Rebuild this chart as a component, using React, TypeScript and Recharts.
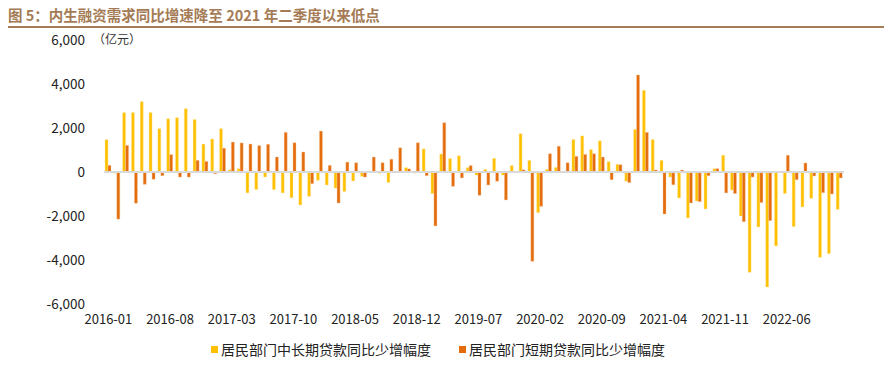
import { Bar, BarChart, ReferenceLine, XAxis, YAxis } from "recharts"

// months 2016-01 .. 2022-12
const months: string[] = []
for (let y = 2016; y <= 2022; y++) {
  for (let m = 1; m <= 12; m++) months.push(`${y}-${String(m).padStart(2, "0")}`)
}

// 居民部门中长期贷款同比少增幅度 (亿元)
const longTerm = [
  1470, -50, 2700, 2700, 3200, 2700, 1970, 2420, 2470, 2880, 2390, 1270,
  1500, 1970, 100, 150, -950, -800, -230, -800, -950, -1170, -1500, -1110,
  -380, -590, -730, -890, -410, -200, 20, -60, -480, 10, 200, -50,
  1050, -980, 820, 610, 740, 200, -140, 120, 620, -140, 290, 1740,
  530, -1850, 120, 210, 20, 1480, 1640, 1020, 1420, 470, 350, -420,
  1940, 3710, 1480, 530, -230, -1180, -2090, -1320, -1680, 150, 760, -820,
  -2000, -4560, -2500, -5230, -3360, -980, -2480, -1590, -1200, -3880, -3710, -1700,
]

// 居民部门短期贷款同比少增幅度 (亿元)
const shortTerm = [
  300, -2140, 1210, -1420, -560, -330, -170, 790, -230, -230, 530, 480,
  -80, 1080, 1360, 1320, 1270, 1200, 1260, 680, 1800, 1330, 910, -530,
  1860, 300, -1410, 450, 420, -230, 680, 420, 580, 1100, 140, 1330,
  -170, -2450, 2240, -650, -270, 290, -1060, -590, -420, -1270, -30, 100,
  -4060, -1560, 830, 1170, 420, 710, 800, 830, 680, -350, 330, -480,
  4410, 1800, 90, -1910, -580, 90, -1410, -1350, -170, 150, -950, -980,
  -2260, -230, -1390, -2210, 20, 760, -350, 410, -180, -940, -1000, -270,
]

const yTicks = [-6000, -4000, -2000, 0, 2000, 4000, 6000]

const seriesNames = ["居民部门中长期贷款同比少增幅度", "居民部门短期贷款同比少增幅度"]
const YELLOW = "#FFC000"
const ORANGE = "#E46C0A"
const BROWN = "#A47B55"
const FONT = "'Noto Sans CJK SC', 'Noto Sans', sans-serif"

const data = months.map((m, i) => ({ month: m, long: longTerm[i], short: shortTerm[i] }))

const fmt = (v: number) => (v === 0 ? "0" : v.toLocaleString("en-US"))

export default function App() {
  return (
    <div style={{ position: "relative", width: 876, height: 361, fontFamily: FONT }}>
      <div
        style={{
          position: "absolute",
          left: 0,
          top: -4,
          fontSize: 14.5,
          fontWeight: 700,
          color: BROWN,
          whiteSpace: "nowrap",
        }}
      >
        图 5：内生融资需求同比增速降至 2021 年二季度以来低点
      </div>
      <div style={{ position: "absolute", left: 0, top: 18, width: 877, height: 2, background: BROWN }} />
      <div style={{ position: "absolute", left: 85, top: 22, fontSize: 12, color: "#333" }}>（亿元）</div>

      <div style={{ position: "absolute", left: 0, top: 0 }}>
        <BarChart
          width={876}
          height={340}
          data={data}
          margin={{ top: 32, right: 40, bottom: 14, left: 0 }}
          barSize={3}
          barGap={0}
          barCategoryGap={2}
        >
          <XAxis
            dataKey="month"
            interval={6}
            axisLine={false}
            tickLine={false}
            tickMargin={5}
            height={30}
            tick={{ fontSize: 13, fill: "#222", fontFamily: FONT }}
          />
          <YAxis
            domain={[-6000, 6000]}
            ticks={yTicks}
            tickFormatter={fmt}
            axisLine={false}
            tickLine={false}
            tickMargin={13}
            width={96}
            tick={{ fontSize: 13.5, fill: "#222", fontFamily: FONT }}
          />
          <ReferenceLine y={0} stroke="#D9D9D9" strokeWidth={2} />
          <Bar
            dataKey="long"
            name={seriesNames[0]}
            fill={YELLOW}
            stroke="#FFE9A6"
            strokeWidth={0.4}
            isAnimationActive={false}
          />
          <Bar
            dataKey="short"
            name={seriesNames[1]}
            fill={ORANGE}
            stroke="#F5C4A0"
            strokeWidth={0.4}
            isAnimationActive={false}
          />
        </BarChart>
      </div>

      <div
        style={{
          position: "absolute",
          top: 331,
          left: 0,
          width: 876,
          fontSize: 14,
          color: "#222",
        }}
      >
        <span style={{ position: "absolute", left: 203, top: 0, display: "flex", alignItems: "center", whiteSpace: "nowrap" }}>
          <span style={{ width: 7, height: 7, background: YELLOW, marginRight: 3 }} />
          {seriesNames[0]}
        </span>
        <span style={{ position: "absolute", left: 451, top: 0, display: "flex", alignItems: "center", whiteSpace: "nowrap" }}>
          <span style={{ width: 7, height: 7, background: ORANGE, marginRight: 3 }} />
          {seriesNames[1]}
        </span>
      </div>
      <div style={{ position: "absolute", left: 0, top: 361, width: 877, height: 2, background: "#A88A6E" }} />
    </div>
  )
}
